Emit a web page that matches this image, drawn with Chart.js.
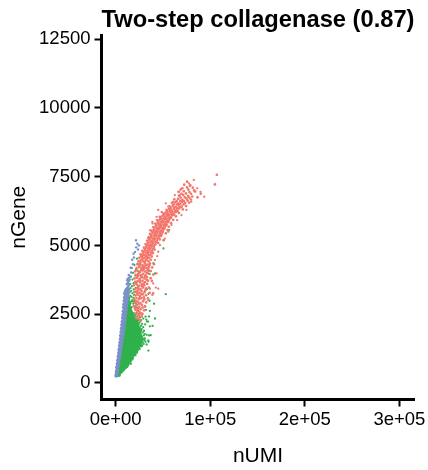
<!DOCTYPE html>
<html>
<head>
<meta charset="utf-8">
<title>Two-step collagenase</title>
<script src="https://cdn.jsdelivr.net/npm/chart.js@4/dist/chart.umd.min.js"></script>
<style>
  body { margin: 0; background: #fff; }
</style>
</head>
<body>
<canvas id="chartGenes" width="428" height="470"></canvas>
<script>
const xTickValues = [0, 100000, 200000, 300000];
const xTickLabels = ['0e+00', '1e+05', '2e+05', '3e+05'];
const yTickValues = [0, 2500, 5000, 7500, 10000, 12500];

// values, [nUMI, nGene]
// the thick part of each cloud is drawn with bigger dots (see datasets)
const blueDense = [
  [600,260],[1000,330],[1100,420],[1700,470],[1500,560],[2300,610],[2000,690],[2900,740],[2500,830],[3500,880],
  [3000,960],[4200,1010],[3500,1090],[4800,1140],[3900,1220],[5300,1270],[4400,1350],[5900,1390],[4800,1470],[6500,1520],
  [5200,1600],[7000,1650],[5600,1730],[7500,1770],[6000,1850],[8000,1900],[6400,1980],[8500,2030],[6800,2110],[9000,2150],
  [7200,2230],[9400,2280],[7600,2360],[9900,2400],[8000,2480],[10300,2530],[8300,2610],[10700,2660],[8700,2740],[11100,2790],
  [9000,2860],[11500,2910],[9400,2990],[12000,3030],[9800,3110],[12600,3160],[10000,3240],[12800,3290],[10600,3340],[13300,3400]
];
const blueSparse = [
  [9600,3060],[10100,3180],[9200,3260],[10700,3290],[11000,3420],[11700,3370],[12300,3470],[13200,3490],[13800,3540],[11800,3590],
  [12600,3640],[13300,3680],[14200,3600],[11900,3740],[12900,3790],[14000,3830],[14800,3760],[15500,3880],[13800,3930],[16300,4020],
  [17000,4180],[15800,4190],[18200,4320],[17500,4480],[19300,4560],[18800,4700],[20500,4760],[21700,4930],[22900,5060],[23600,4850],
  [24600,5000],[21500,5190]
];
const greenDense = [
  [1800,300],[3400,290],[2800,420],[5000,400],[6300,440],[3000,540],[4700,520],[6500,560],[8200,530],[10000,570],
  [3900,650],[5600,640],[7300,670],[9100,650],[10900,680],[12400,660],[4300,770],[6100,760],[7900,790],[9700,770],
  [11500,800],[13300,780],[15000,810],[4700,890],[6500,880],[8300,910],[10100,890],[11900,920],[13700,900],[15500,930],
  [17300,910],[5100,1010],[6900,1000],[8700,1030],[10500,1010],[12300,1040],[14100,1020],[15900,1050],[17700,1030],[19500,1060],
  [5500,1130],[7300,1120],[9100,1150],[10900,1130],[12700,1160],[14500,1140],[16300,1170],[18100,1150],[19900,1180],[21700,1160],
  [5900,1250],[7700,1240],[9500,1270],[11300,1250],[13100,1280],[14900,1260],[16700,1290],[18500,1270],[20300,1300],[22100,1280],
  [23800,1310],[6300,1370],[8100,1360],[9900,1390],[11700,1370],[13500,1400],[15300,1380],[17100,1410],[18900,1390],[20700,1420],
  [22500,1400],[24300,1430],[26000,1410],[6700,1490],[8500,1480],[10300,1510],[12100,1490],[13900,1520],[15700,1500],[17500,1530],
  [19300,1510],[21100,1540],[22900,1520],[24700,1550],[26500,1530],[7100,1610],[8900,1600],[10700,1630],[12500,1610],[14300,1640],
  [16100,1620],[17900,1650],[19700,1630],[21500,1660],[23300,1640],[25100,1670],[26900,1650],[7500,1730],[9300,1720],[11100,1750],
  [12900,1730],[14700,1760],[16500,1740],[18300,1770],[20100,1750],[21900,1780],[23700,1760],[25500,1790],[7900,1850],[9700,1840],
  [11500,1870],[13300,1850],[15100,1880],[16900,1860],[18700,1890],[20500,1870],[22300,1900],[24100,1880],[25800,1910],[8400,1970],
  [10200,1960],[12000,1990],[13800,1970],[15600,2000],[17400,1980],[19200,2010],[21000,1990],[22800,2020],[24500,2000],[8900,2090],
  [10700,2080],[12500,2110],[14300,2090],[16100,2120],[17900,2100],[19700,2130],[21500,2110],[23200,2140],[9300,2210],[11100,2200],
  [12900,2230],[14700,2210],[16500,2240],[18300,2220],[20100,2250],[21800,2230],[9800,2330],[11600,2320],[13400,2350],[15200,2330],
  [17000,2360],[18800,2340],[10300,2450],[12100,2440],[13900,2470],[15700,2450],[17500,2480],[10800,2570],
  [12600,2560],[14400,2590],[16200,2570],[11400,2690],[13200,2680],[15000,2710],[12000,2810],[13800,2800],
  [12600,2930],[14400,2920],[13200,3050]
];
const greenSparse = [
  [5600,480],[8700,470],[12200,590],[14200,720],[16100,700],[16900,840],[19200,990],[21000,1010],[22500,1100],[24000,1210],
  [25300,1240],[26800,1330],[28000,1350],[28500,1480],[29600,1420],[30300,1560],[28900,1600],[30900,1620],[31500,1500],[29700,1730],
  [30700,1780],[28700,1840],[30000,1900],[27500,1960],[29100,2030],[26800,2080],[28000,2150],[25300,2200],[26900,2280],[24200,2290],
  [25600,2380],[23000,2420],[24700,2500],[22300,2540],[23800,2620],[21000,2660],[22500,2740],[20200,2780],[21400,2880],[18700,2880],
  [20200,2990],[17600,3000],[18900,3090],[16700,3130],[19500,3200],[15500,3170],[17700,3260],[20600,3310],[16300,3340],[19000,3400],
  [14600,3290],[15800,3450],[21300,3460],[17200,3520],[23800,3520],[15300,3600],[18900,3630],[21900,3670],[14300,3720],[17800,3760],
  [25700,3730],[16100,3860],[20900,3900],[26900,3850],[18400,4000],[24500,4050],[21600,4130],[27900,4180],[19800,4290],[23200,4340],
  [29300,4130],[22500,4520],[35300,1730],[36100,2060],[34300,2230],[33000,2240],[35200,2420],[36200,2620],[31600,2410],
  [32100,2660],[30800,2790],[35900,2990],[34600,3240],[33100,3410],[36000,3960],[35200,4080],
  [31200,2130],[29200,2340],[32900,1750],[34800,1500],[32800,1400],[34600,1180],
  [16400,2640],[18100,2520],[19700,2430],[14700,2840],[16900,2760],[18300,2960],[14200,3110],[17100,2990],[15600,2900],[13400,3210],
  [27100,1720],[28200,1530],[26100,1880],[24200,2120],[22900,2310],[21000,2480],
  [53000,3230],[41600,2345],[39000,2075],[40600,2880],[34400,1550],[37000,1740],[32400,2307],[50500,4890],[56500,5560],[41600,3980],[39800,4360]
];
const redPoints = [
  [20500,2250],[23000,2200],[26200,2260],[21800,2400],[24500,2340],[27600,2420],[19800,2540],[22600,2530],[25100,2590],[28300,2510],
  [21000,2660],[23800,2700],[26500,2680],[30100,2640],[19200,2790],[22400,2830],[25000,2770],[27700,2840],[31100,2790],[20600,2930],
  [23300,2950],[26000,2900],[28900,2970],[32300,2930],[19400,3050],[22000,3090],[24600,3040],[27200,3080],[30300,3040],[34100,3080],
  [20900,3180],[23500,3210],[26100,3170],[28700,3220],[32000,3190],[19700,3310],[22300,3330],[24900,3290],[27500,3340],[30500,3300],
  [36000,3280],[39600,3260],[21000,3430],[23600,3460],[26200,3410],[28800,3470],[32000,3440],[35200,3470],[19100,3550],[22400,3580],
  [25000,3530],[27600,3590],[30200,3550],[33300,3600],[20600,3680],[23200,3700],[25800,3660],[28400,3710],[31000,3670],[34200,3720],
  [38300,3710],[19900,3800],[22500,3830],[25100,3790],[27700,3840],[30300,3800],[33100,3850],[36900,3810],[21200,3930],[23800,3960],
  [26400,3920],[29000,3970],[31600,3930],[34700,3980],[39800,3940],[20700,4060],[23300,4080],[25900,4040],[28500,4090],[31100,4050],
  [33700,4100],[37100,4070],[22100,4180],[24700,4210],[27300,4170],[29900,4220],[32500,4180],[35100,4230],[38600,4200],[23100,4310],
  [25700,4330],[28300,4290],[30900,4340],[33500,4300],[36100,4350],[40500,4320],[24200,4430],[26800,4460],[29400,4420],[32000,4470],
  [34600,4430],[37200,4480],[25100,4550],[27700,4580],[30300,4540],[32900,4590],[35500,4550],[38100,4600],[26300,4680],[28900,4700],
  [31500,4660],[34100,4710],[36700,4670],[39300,4720],[28200,4800],[30800,4830],[33400,4790],[36000,4840],[38600,4800],[41200,4850],
  [29900,4920],[32500,4950],[35100,4910],[37700,4960],[40300,4920],[31600,5050],[34200,5070],[36800,5030],[39400,5080],[42000,5040],
  [45000,5090],[33100,5170],[35700,5200],[38300,5160],[40900,5210],[43500,5170],[46600,5220],[50700,5190],[34900,5300],[37500,5320],
  [40100,5280],[42700,5330],[45300,5290],[47900,5340],[36300,5420],[38900,5450],[41500,5410],[44100,5460],[46700,5420],[49300,5470],
  [53100,5440],[37700,5540],[40300,5570],[42900,5530],[45500,5580],[48100,5540],[50700,5590],[54800,5560],[39900,5670],[42500,5690],
  [45100,5650],[47700,5700],[50300,5660],[52900,5710],[56200,5680],[41900,5790],[44500,5820],[47100,5780],[49700,5830],[52300,5790],
  [54900,5840],[58600,5810],[44000,5920],[46600,5940],[49200,5900],[51800,5950],[54400,5910],[57000,5960],[60800,5930],[46700,6040],
  [49300,6070],[51900,6030],[54500,6080],[57100,6040],[59700,6090],[63700,6060],[50200,6170],[52800,6190],[55400,6150],[58000,6200],
  [60600,6160],[63200,6210],[66900,6180],[53900,6290],[56500,6320],[59100,6280],[61700,6330],[64300,6290],[66900,6340],[71000,6310],
  [57000,6420],[60200,6440],[63400,6400],[66600,6450],[69800,6410],[74500,6430],[59500,6550],[63000,6570],[66500,6530],[70000,6580],
  [73500,6540],[77700,6560],[62000,6680],[66000,6690],[70500,6660],[75000,6700],[79500,6670],[67000,6810],[71500,6830],[76500,6800],
  [81000,6780],[86500,6750],[66500,6950],[72000,6970],[78000,6940],[84000,6960],[70500,7080],[75500,7110],[90000,6880],[81500,7100],
  [72500,7210],[78800,7190],[75500,7320],[104900,7220],[107000,7570]
];
// in-between dots, so the red band reads as a cloud and not as rows
const redFill = [
  [21700,2310],[24800,2460],[23100,2610],[26900,2530],[20400,2720],[24600,2880],[28400,2740],[21500,2990],[25400,3120],[29800,3110],
  [22700,3260],[26800,3250],[31300,3370],[24100,3390],[28000,3520],[21400,3620],[25700,3740],[29700,3610],[32600,3760],[23500,3890],
  [27300,3900],[30900,3870],[24600,4010],[27000,4120],[29900,4140],[33200,4010],[25300,4260],[28800,4240],[31700,4270],[34500,4160],
  [26200,4380],[28300,4510],[30900,4400],[33300,4530],[35800,4290],[27000,4620],[29400,4640],[32000,4610],[34800,4640],[29600,4760],
  [32100,4740],[34900,4770],[37400,4740],[31200,4880],[33800,4880],[36400,4890],[39000,4880],[32900,5000],[35500,4990],[38100,5010],
  [40800,4990],[34400,5110],[37000,5120],[39600,5130],[42300,5120],[36100,5240],[38900,5250],[41600,5240],[44300,5250],[37700,5370],
  [40500,5360],[43300,5380],[46100,5360],[48500,5400],[39000,5500],[41700,5490],[44400,5510],[47100,5490],[49900,5510],[41000,5620],
  [43800,5610],[46500,5630],[49100,5620],[51800,5630],[43100,5740],[45800,5730],[48500,5750],[51200,5740],[53900,5750],[45300,5860],
  [48000,5860],[50600,5870],[53300,5860],[56000,5880],[47700,5990],[50500,5980],[53200,6000],[55900,5990],[58500,6010],[51000,6110],
  [53700,6120],[56400,6110],[59100,6130],[61800,6120],[54600,6230],[57400,6240],[60100,6230],[62900,6250],[65500,6240],[58300,6360],
  [61600,6370],[64900,6360],[68100,6380],[61400,6490],[64800,6490],[68200,6500],[71800,6490],[64400,6610],[68300,6620],[72100,6610],
  [76000,6630],[68600,6740],[73200,6750],[77800,6740],[69700,6880],[74300,6890],[79800,6880],[83000,7000],[68800,7030],[76900,7030]
];
// stragglers on both edges of the band
const redEdge = [
  [77400,7258],[82600,7380],[78500,7160],[86200,7075],[89700,6950],[93600,6770],[67200,6950],[62600,6830],[53000,6530],[45000,6290],
  [38700,5860],[34400,5250],[36200,5550],[39000,5800],[43300,6040],[48600,6220],[55600,6410],[60900,6590],[67900,6830],
  [55600,5500],[59000,5740],[65000,5920],[69600,6100],[74900,6290],[80000,6590],[52000,5250],[46800,5010],[45000,4770],[41500,4470],
  [43300,3985],[39700,3620],[36200,3430],[45000,3430],[34400,3010],[30900,2770],[42400,3470],[38700,3200],[38200,5000],[43900,4610]
];

const chart = new Chart(document.getElementById('chartGenes').getContext('2d'), {
  type: 'scatter',
  data: {
    datasets: [
      { label: 'blue', data: blueDense, backgroundColor: '#7b90c9', pointRadius: 2, borderWidth: 0 },
      { label: 'blue sparse', data: blueSparse, backgroundColor: '#7b90c9', pointRadius: 1.2, borderWidth: 0 },
      { label: 'green', data: greenDense, backgroundColor: '#2fb14c', pointRadius: 2.1, borderWidth: 0 },
      { label: 'red', data: redPoints, backgroundColor: '#f3766c', pointRadius: 1.35, borderWidth: 0 },
      { label: 'red fill', data: redFill, backgroundColor: '#f3766c', pointRadius: 1.35, borderWidth: 0 },
      { label: 'red edge', data: redEdge, backgroundColor: '#f3766c', pointRadius: 1.15, borderWidth: 0 },
      { label: 'green sparse', data: greenSparse, backgroundColor: '#2fb14c', pointRadius: 1.15, borderWidth: 0 }
    ]
  },
  options: {
    responsive: false,
    animation: false,
    layout: { padding: { right: 13 } },
    plugins: {
      legend: { display: false },
      tooltip: { enabled: false },
      title: {
        display: true,
        fullSize: false,
        text: 'Two-step collagenase (0.87)',
        color: '#000',
        font: { family: '"Liberation Sans", Arial, sans-serif', size: 24.5, weight: 'bold' },
        padding: { top: 5.6, bottom: 0 }
      }
    },
    scales: {
      x: {
        type: 'linear',
        min: -15000,
        max: 316000,
        afterBuildTicks: function (scale) { scale.ticks = xTickValues.map(v => ({ value: v })); },
        afterFit: function (scale) { scale.height = 70.5; },
        border: { display: true, width: 3, color: '#000' },
        grid: { drawOnChartArea: false, drawTicks: true, tickLength: 7, tickWidth: 2, tickColor: '#000' },
        ticks: {
          color: '#000',
          padding: 2,
          maxRotation: 0,
          autoSkip: false,
          font: { family: '"Liberation Sans", Arial, sans-serif', size: 18.5 },
          callback: function (value) { return xTickLabels[xTickValues.indexOf(value)]; }
        },
        title: {
          display: true,
          text: 'nUMI',
          color: '#000',
          font: { family: '"Liberation Sans", Arial, sans-serif', size: 21 },
          padding: { top: 8, bottom: 1 }
        }
      },
      y: {
        type: 'linear',
        min: -600,
        max: 12650,
        afterBuildTicks: function (scale) { scale.ticks = yTickValues.map(v => ({ value: v })); },
        afterFit: function (scale) { scale.width = 101.5; },
        border: { display: true, width: 3, color: '#000' },
        grid: { drawOnChartArea: false, drawTicks: true, tickLength: 7, tickWidth: 2, tickColor: '#000' },
        ticks: {
          color: '#000',
          padding: 4,
          autoSkip: false,
          font: { family: '"Liberation Sans", Arial, sans-serif', size: 18.5 },
          callback: function (value) { return String(value); }
        },
        title: {
          display: true,
          text: 'nGene',
          color: '#000',
          font: { family: '"Liberation Sans", Arial, sans-serif', size: 21 },
          padding: { top: 7, bottom: 0 }
        }
      }
    }
  }
});
</script>
</body>
</html>
